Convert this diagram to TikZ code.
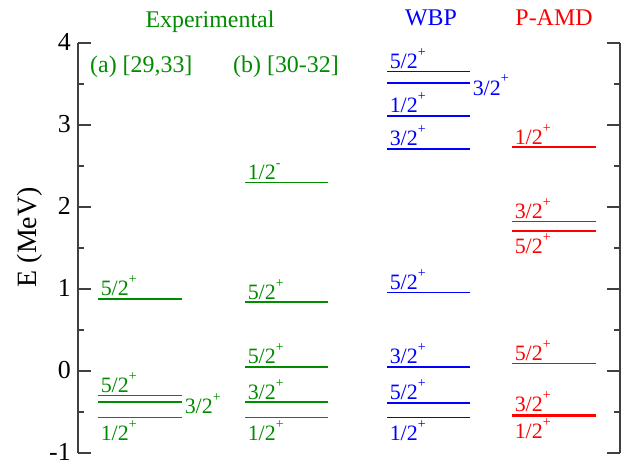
\documentclass[tikz,border=0pt]{standalone}
\usepackage{fontspec}
\setmainfont{Liberation Serif}

\definecolor{expgreen}{RGB}{0,139,0}
\definecolor{wbpblue}{RGB}{0,0,255}
\definecolor{amdred}{RGB}{255,0,0}

\newcommand{\jp}[2]{#1/2\raisebox{0.55em}{\fontsize{14}{14}\selectfont #2}}

\tikzset{
  axisline/.style={line width=1.2bp, black!75},
  level/.style={line width=1.5bp},
  lvltext/.style={font=\fontsize{22}{22}\selectfont},
  lvlup/.style={pos=0, anchor=south west, inner sep=2bp},
  lvldn/.style={pos=0, anchor=north west, inner sep=2bp},
  lvlrt/.style={pos=1, anchor=west, inner sep=2bp, yshift=-2bp},
  ticklabel/.style={anchor=east, inner sep=0pt, font=\fontsize{26}{26}\selectfont},
  header/.style={anchor=base, font=\fontsize{24}{24}\selectfont},
}

\begin{document}
\begin{tikzpicture}[x=1bp, y=82bp]
  \useasboundingbox (0,-1.134) rectangle (625,4.524);

  \draw[axisline] (78,-1) -- (78,4);
  \draw[axisline] (620,-1) -- (620,4);
  \foreach \y [count=\i] in {-1,...,4} {
    \draw[axisline] (78,\y) -- ++(13,0);
    \draw[axisline] (620,\y) -- ++(-13,0);
    \node[ticklabel] (t\i) at (71,\y+0.01) {\y};
  }
  \foreach \y in {-0.5,0.5,...,3.5} {
    \draw[axisline] (78,\y) -- ++(6,0);
    \draw[axisline] (620,\y) -- ++(-6,0);
  }
  \node[rotate=90, font=\fontsize{28}{28}\selectfont] (ylab) at (30,1.63) {E (MeV)};

  \node[header, expgreen] (hexp) at (210,4.183) {Experimental};
  \node[header, wbpblue] (hwbp) at (431,4.207) {WBP};
  \node[header, amdred] (hamd) at (554,4.207) {P-AMD};
  \node[header, anchor=base west, inner sep=0pt, expgreen] (suba) at (90,3.634) {(a) [29,33]};
  \node[header, anchor=base west, inner sep=0pt, expgreen] (subb) at (233,3.634) {(b) [30-32]};

  \foreach \e/\n/\s/\p [count=\i] in {0.88/5/+/lvlup, -0.30/5/+/lvlup, -0.38/3/+/lvlrt, -0.57/1/+/lvldn}
    \draw[level, expgreen] (98,\e) -- (182,\e) node[lvltext, \p] (ea\i) {\jp{\n}{\s}};

  \foreach \e/\n/\s/\p [count=\i] in {2.30/1/-/lvlup, 0.84/5/+/lvlup, 0.05/5/+/lvlup, -0.38/3/+/lvlup, -0.57/1/+/lvldn}
    \draw[level, expgreen] (245,\e) -- (328,\e) node[lvltext, \p] (eb\i) {\jp{\n}{\s}};

  \foreach \e/\n/\s/\p [count=\i] in {3.65/5/+/lvlup, 3.51/3/+/lvlrt, 3.11/1/+/lvlup, 2.71/3/+/lvlup,
      0.96/5/+/lvlup, 0.05/3/+/lvlup, -0.39/5/+/lvlup, -0.57/1/+/lvldn}
    \draw[level, wbpblue] (387,\e) -- (470,\e) node[lvltext, \p] (wb\i) {\jp{\n}{\s}};

  \foreach \e/\n/\s/\p [count=\i] in {2.73/1/+/lvlup, 1.82/3/+/lvlup, 1.71/5/+/lvldn, 0.09/5/+/lvlup,
      -0.535/3/+/lvlup, -0.55/1/+/lvldn}
    \draw[level, amdred] (512,\e) -- (596,\e) node[lvltext, \p] (pa\i) {\jp{\n}{\s}};
\end{tikzpicture}
\end{document}
